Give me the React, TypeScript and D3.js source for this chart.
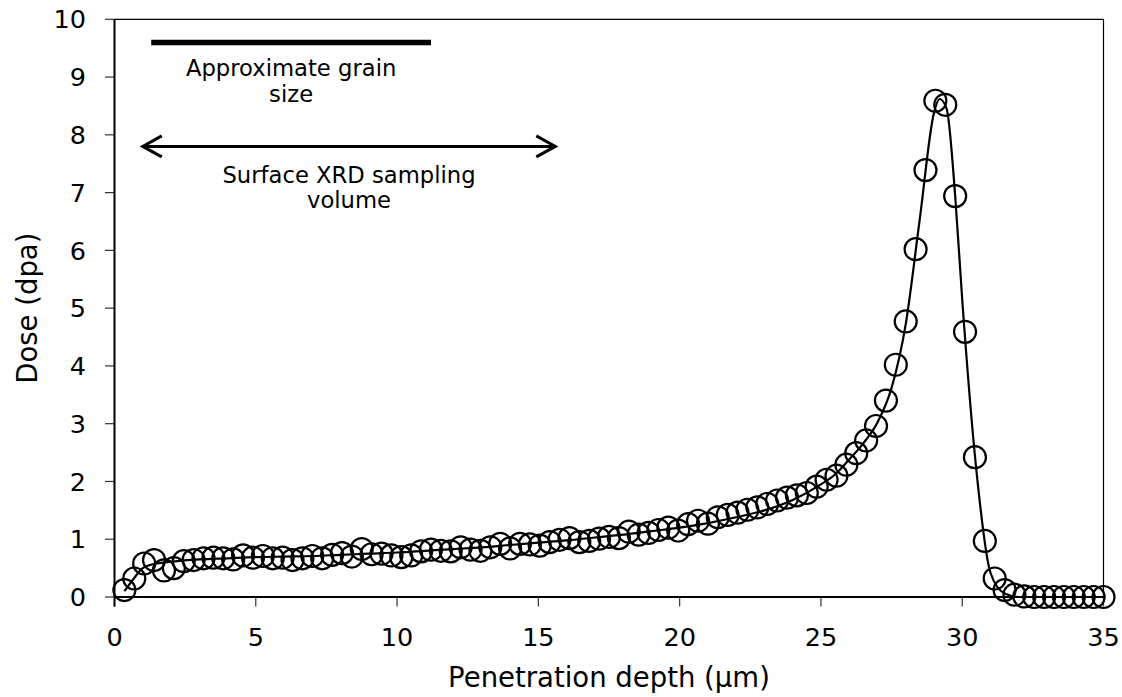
import React from "react";
import * as d3 from "d3";

// Damage profile: dose (dpa) sampled every 0.35 µm of penetration depth
const depthUm = [
  0.35, 0.7, 1.05, 1.4, 1.75, 2.1, 2.45, 2.8, 3.15, 3.5,
  3.85, 4.2, 4.55, 4.9, 5.25, 5.6, 5.95, 6.3, 6.65, 7.0,
  7.35, 7.7, 8.05, 8.4, 8.75, 9.1, 9.45, 9.8, 10.15, 10.5,
  10.85, 11.2, 11.55, 11.9, 12.25, 12.6, 12.95, 13.3, 13.65, 14.0,
  14.35, 14.7, 15.05, 15.4, 15.75, 16.1, 16.45, 16.8, 17.15, 17.5,
  17.85, 18.2, 18.55, 18.9, 19.25, 19.6, 19.95, 20.3, 20.65, 21.0,
  21.35, 21.7, 22.05, 22.4, 22.75, 23.1, 23.45, 23.8, 24.15, 24.5,
  24.85, 25.2, 25.55, 25.9, 26.25, 26.6, 26.95, 27.3, 27.65, 28.0,
  28.35, 28.7, 29.05, 29.4, 29.75, 30.1, 30.45, 30.8, 31.15, 31.5,
  31.85, 32.2, 32.55, 32.9, 33.25, 33.6, 33.95, 34.3, 34.65, 35.0,
];

const doseDpa = [
  0.12, 0.32, 0.58, 0.64, 0.46, 0.5, 0.62, 0.64, 0.67, 0.68,
  0.67, 0.65, 0.72, 0.68, 0.71, 0.67, 0.68, 0.64, 0.67, 0.71,
  0.67, 0.73, 0.76, 0.7, 0.83, 0.74, 0.75, 0.72, 0.69, 0.72,
  0.79, 0.82, 0.8, 0.79, 0.86, 0.82, 0.8, 0.86, 0.92, 0.84,
  0.92, 0.91, 0.89, 0.95, 0.99, 1.02, 0.95, 0.97, 1.01, 1.04,
  1.02, 1.13, 1.08, 1.11, 1.16, 1.2, 1.15, 1.26, 1.32, 1.27,
  1.38, 1.42, 1.46, 1.51, 1.55, 1.61, 1.67, 1.72, 1.76, 1.8,
  1.91, 2.03, 2.1, 2.29, 2.49, 2.71, 2.96, 3.4, 4.02, 4.77,
  6.02, 7.39, 8.59, 8.52, 6.94, 4.59, 2.42, 0.97, 0.32, 0.12,
  0.04, 0.01, 0, 0, 0, 0, 0, 0, 0, 0,
];

// Smooth fitted profile drawn as the solid curve
const fitDepthUm = [
  0.35, 0.7, 1.0, 1.5, 2, 3, 4, 5, 6, 7, 8, 9, 10, 11, 12, 13, 14, 15, 16, 17,
  18, 19, 20, 21, 22, 23, 24, 25, 25.5, 26, 26.5, 27, 27.5, 28, 28.5, 29, 29.2,
  29.45, 29.75, 30, 30.5, 31, 31.5, 32, 35,
];
const fitDoseDpa = [
  0.1, 0.33, 0.5, 0.58, 0.61, 0.65, 0.67, 0.69, 0.7, 0.71, 0.73, 0.75, 0.77,
  0.8, 0.83, 0.86, 0.9, 0.94, 0.98, 1.03, 1.08, 1.14, 1.2, 1.28, 1.38, 1.5,
  1.68, 1.95, 2.12, 2.38, 2.66, 3.02, 3.62, 4.72, 6.55, 8.38, 8.62, 8.45,
  6.95, 5.15, 2.2, 0.42, 0.06, 0, 0,
];

const xTicks = [0, 5, 10, 15, 20, 25, 30, 35];
const yTicks = [0, 1, 2, 3, 4, 5, 6, 7, 8, 9, 10];

// Annotation extents, in data units
const grainBar = { from: 1.3, to: 11.2, dose: 9.6 };
const xrdArrow = { from: 1.0, to: 15.6, dose: 7.8 };

const W = 1122;
const H = 697;
const plot = { left: 114.5, right: 1103.5, top: 19.3, bottom: 597 };
const FONT = "'DejaVu Sans', Verdana, sans-serif";

export default function App() {
  const x = d3.scaleLinear().domain([0, 35]).range([plot.left, plot.right]);
  const y = d3.scaleLinear().domain([0, 10]).range([plot.bottom, plot.top]);

  const fitLine = d3
    .line<number>()
    .x((_, i) => x(fitDepthUm[i]))
    .y((d) => y(d))
    .curve(d3.curveMonotoneX);

  const ax1 = x(xrdArrow.from);
  const ax2 = x(xrdArrow.to);
  const ay = y(xrdArrow.dose);
  const head = { dx: 19, dy: 10.5 };

  const gy = y(grainBar.dose);
  const grainMid = (x(grainBar.from) + x(grainBar.to)) / 2;
  const xrdMid = (ax1 + ax2) / 2;

  return (
    <svg
      width={W}
      height={H}
      viewBox={`0 0 ${W} ${H}`}
      style={{ position: "absolute", left: 0, top: 0, background: "#fff" }}
      fontFamily={FONT}
    >
      <rect x={0} y={0} width={W} height={H} fill="#fff" />

      {/* frame: thin top and right edges */}
      <line x1={plot.left} x2={plot.right} y1={plot.top} y2={plot.top} stroke="#000" strokeWidth={1.2} />
      <line x1={plot.right} x2={plot.right} y1={plot.top} y2={plot.bottom} stroke="#000" strokeWidth={1.2} />

      {/* y ticks and labels */}
      {yTicks.map((t) => (
        <g key={`y${t}`}>
          <line x1={plot.left - 9.5} x2={plot.left} y1={y(t)} y2={y(t)} stroke="#333" strokeWidth={1.2} />
          <text x={86} y={y(t)} dy="0.36em" textAnchor="end" fontSize={25.5} fill="#000">
            {t}
          </text>
        </g>
      ))}

      {/* x ticks and labels */}
      {xTicks.map((t) => (
        <g key={`x${t}`}>
          <line x1={x(t)} x2={x(t)} y1={plot.bottom} y2={plot.bottom + 9.5} stroke="#333" strokeWidth={1.2} />
          <text x={x(t)} y={646} textAnchor="middle" fontSize={25.5} fill="#000">
            {t}
          </text>
        </g>
      ))}

      {/* axis lines */}
      <line x1={plot.left} x2={plot.left} y1={plot.top} y2={plot.bottom + 9.5} stroke="#000" strokeWidth={2} />
      <line x1={plot.left} x2={plot.right} y1={plot.bottom} y2={plot.bottom} stroke="#000" strokeWidth={2.2} />

      {/* fitted curve */}
      <path d={fitLine(fitDoseDpa) || ""} fill="none" stroke="#000" strokeWidth={2.2} />

      {/* measured points */}
      {doseDpa.map((v, i) => (
        <circle key={i} cx={x(depthUm[i])} cy={y(v)} r={11} fill="none" stroke="#000" strokeWidth={2.2} />
      ))}

      {/* grain size bar */}
      <line x1={x(grainBar.from)} x2={x(grainBar.to)} y1={gy} y2={gy} stroke="#000" strokeWidth={5.5} />
      <text x={grainMid} y={gy + 34} textAnchor="middle" fontSize={22.7} fill="#000">
        Approximate grain
      </text>
      <text x={grainMid} y={gy + 60} textAnchor="middle" fontSize={22.7} fill="#000">
        size
      </text>

      {/* XRD sampling arrow */}
      <line x1={ax1 + 1} x2={ax2 - 1} y1={ay} y2={ay} stroke="#000" strokeWidth={3} />
      <path
        d={`M${ax1 + head.dx},${ay - head.dy}L${ax1},${ay}L${ax1 + head.dx},${ay + head.dy}`}
        fill="none"
        stroke="#000"
        strokeWidth={3}
        strokeLinejoin="miter"
      />
      <path
        d={`M${ax2 - head.dx},${ay - head.dy}L${ax2},${ay}L${ax2 - head.dx},${ay + head.dy}`}
        fill="none"
        stroke="#000"
        strokeWidth={3}
        strokeLinejoin="miter"
      />
      <text x={xrdMid} y={ay + 37} textAnchor="middle" fontSize={22.7} fill="#000">
        Surface XRD sampling
      </text>
      <text x={xrdMid} y={ay + 62} textAnchor="middle" fontSize={22.7} fill="#000">
        volume
      </text>

      {/* axis titles */}
      <text x={(plot.left + plot.right) / 2} y={687} textAnchor="middle" fontSize={27.5} fill="#000">
        Penetration depth (µm)
      </text>
      <text
        transform={`translate(37, ${(plot.top + plot.bottom) / 2}) rotate(-90)`}
        textAnchor="middle"
        fontSize={27.5}
        fill="#000"
      >
        Dose (dpa)
      </text>
    </svg>
  );
}
